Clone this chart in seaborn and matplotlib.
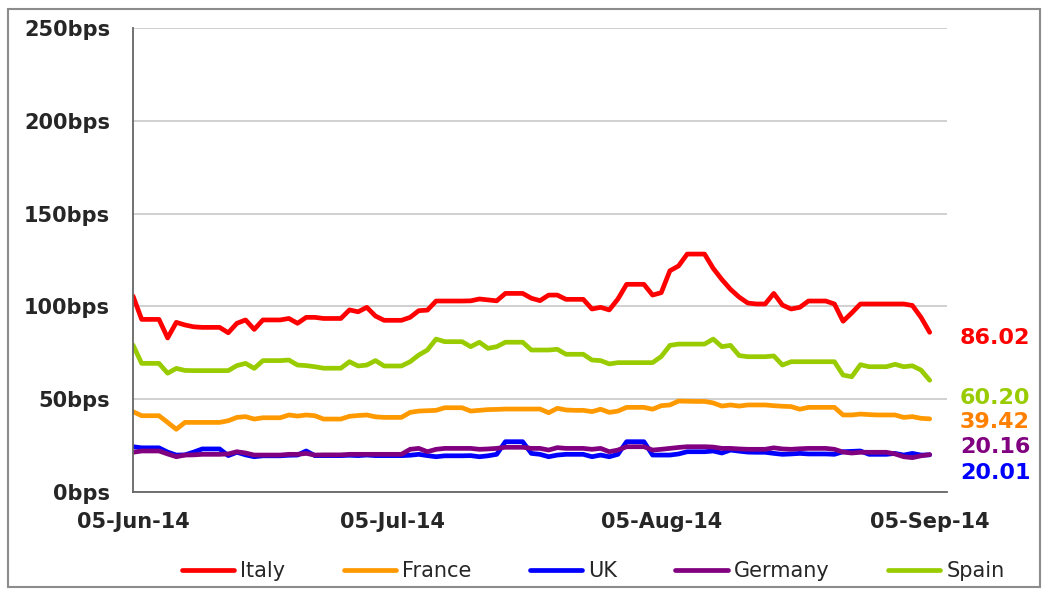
import pandas as pd
import matplotlib.pyplot as plt
import matplotlib.dates as mdates
import seaborn as sns
from matplotlib.patches import Rectangle

# daily values (weekends carry the Friday close), 05-Jun-14 .. 05-Sep-14
dates = pd.date_range("2014-06-05", "2014-09-05", freq="D")

italy = [105.6, 93.0, 93.0, 93.0, 83.0, 91.4, 90.0, 89.0, 88.7, 88.7,
         88.7, 85.8, 90.9, 92.7, 87.6, 92.7, 92.7, 92.7, 93.5, 90.9,
         94.1, 94.1, 93.5, 93.5, 93.5, 98.1, 97.1, 99.5, 94.8, 92.5,
         92.5, 92.5, 94.1, 97.7, 98.0, 102.9, 102.9, 102.9, 102.9, 103.0,
         104.0, 103.5, 103.0, 107.0, 107.0, 107.0, 104.4, 103.1, 106.1, 106.1,
         103.8, 103.8, 103.8, 98.6, 99.5, 98.1, 104.0, 111.9, 111.9, 111.9,
         106.1, 107.4, 119.2, 121.8, 128.2, 128.2, 128.2, 120.5, 114.5, 109.2,
         105.0, 101.8, 101.3, 101.3, 107.0, 100.7, 98.6, 99.5, 102.9, 102.9,
         102.9, 101.3, 92.0, 96.5, 101.3, 101.3, 101.3, 101.3, 101.3, 101.3,
         100.5, 94.1, 86.02]

france = [43.3, 41.1, 41.1, 41.1, 37.5, 33.8, 37.5, 37.5, 37.5, 37.5,
          37.5, 38.4, 40.2, 40.6, 39.3, 40.0, 40.0, 40.0, 41.5, 40.9,
          41.5, 41.1, 39.3, 39.3, 39.3, 40.8, 41.2, 41.5, 40.5, 40.2,
          40.2, 40.2, 42.9, 43.6, 43.8, 44.0, 45.4, 45.4, 45.4, 43.6,
          44.0, 44.4, 44.5, 44.7, 44.7, 44.7, 44.7, 44.7, 42.7, 45.1,
          44.2, 44.0, 44.0, 43.3, 44.6, 42.9, 43.6, 45.6, 45.6, 45.6,
          44.6, 46.5, 46.9, 49.0, 48.9, 48.8, 48.8, 48.0, 46.3, 46.9,
          46.3, 46.9, 46.9, 46.9, 46.5, 46.2, 46.0, 44.6, 45.6, 45.6,
          45.6, 45.6, 41.5, 41.5, 42.0, 41.7, 41.5, 41.5, 41.5, 40.2,
          40.6, 39.7, 39.42]

uk = [24.4, 23.8, 23.8, 23.8, 21.5, 19.9, 20.0, 21.5, 23.2, 23.2,
      23.2, 19.6, 21.4, 20.0, 19.0, 19.5, 19.5, 19.5, 19.8, 19.9,
      22.1, 19.6, 19.6, 19.6, 19.6, 19.8, 19.6, 19.9, 19.6, 19.6,
      19.6, 19.6, 19.8, 20.3, 19.6, 19.0, 19.5, 19.5, 19.5, 19.6,
      19.0, 19.5, 20.3, 27.1, 27.1, 27.1, 20.8, 20.3, 19.0, 19.9,
      20.3, 20.3, 20.3, 19.0, 19.9, 19.0, 20.3, 27.1, 27.1, 27.1,
      19.9, 19.9, 19.9, 20.5, 21.7, 21.7, 21.7, 22.1, 21.0, 22.6,
      22.0, 21.5, 21.4, 21.4, 20.8, 20.3, 20.5, 20.8, 20.5, 20.5,
      20.5, 20.3, 21.7, 21.9, 22.1, 20.3, 20.3, 20.3, 20.8, 19.9,
      20.8, 19.9, 20.01]

germany = [21.4, 22.1, 22.1, 22.1, 20.5, 19.0, 19.9, 20.0, 20.3, 20.3,
           20.3, 20.5, 21.7, 21.0, 19.9, 19.9, 19.9, 19.9, 20.3, 20.3,
           20.8, 19.9, 20.0, 20.0, 20.0, 20.3, 20.3, 20.3, 20.3, 20.3,
           20.3, 20.3, 23.0, 23.5, 21.7, 23.0, 23.5, 23.5, 23.5, 23.5,
           23.0, 23.2, 23.5, 24.1, 24.1, 24.1, 23.5, 23.5, 22.6, 23.9,
           23.5, 23.5, 23.5, 23.0, 23.5, 21.7, 22.6, 24.4, 24.4, 24.4,
           22.6, 23.0, 23.5, 24.0, 24.4, 24.4, 24.4, 24.2, 23.5, 23.5,
           23.2, 23.0, 23.0, 23.0, 23.8, 23.2, 23.0, 23.3, 23.5, 23.5,
           23.5, 23.0, 21.5, 21.0, 21.4, 21.4, 21.4, 21.4, 20.5, 19.0,
           18.5, 19.5, 20.16]

spain = [79.2, 69.3, 69.3, 69.3, 64.0, 66.6, 65.5, 65.4, 65.4, 65.4,
         65.4, 65.4, 68.1, 69.3, 66.6, 70.8, 70.8, 70.8, 71.1, 68.4,
         68.1, 67.5, 66.7, 66.7, 66.7, 70.2, 67.9, 68.4, 70.8, 67.9,
         67.9, 67.9, 70.2, 73.8, 76.5, 82.4, 81.0, 81.0, 81.0, 78.3,
         80.7, 77.4, 78.3, 80.7, 80.7, 80.7, 76.5, 76.5, 76.5, 76.9,
         74.2, 74.2, 74.2, 71.1, 70.8, 69.0, 69.7, 69.7, 69.7, 69.7,
         69.7, 73.0, 79.0, 79.7, 79.7, 79.7, 79.7, 82.4, 78.3, 79.0,
         73.5, 72.9, 72.9, 72.9, 73.3, 68.4, 70.2, 70.2, 70.2, 70.2,
         70.2, 70.2, 63.0, 62.1, 68.6, 67.5, 67.5, 67.5, 68.8, 67.5,
         68.0, 65.7, 60.20]

countries = ["Italy", "France", "UK", "Germany", "Spain"]
colors = ["#FF0000", "#FF9900", "#0000FF", "#800080", "#99CC00"]

df = pd.DataFrame({"Date": dates, "Italy": italy, "France": france,
                   "UK": uk, "Germany": germany, "Spain": spain})
long_df = df.melt(id_vars="Date", var_name="Country", value_name="Spread")

sns.set_style("white")
plt.rcParams["font.family"] = ["DejaVu Sans"]

fig = plt.figure(figsize=(10.45, 5.9), dpi=100)
ax = fig.add_axes([133 / 1045, 98 / 590, 814 / 1045, 464 / 590])

sns.lineplot(data=long_df, x="Date", y="Spread", hue="Country",
             hue_order=countries, palette=colors, linewidth=3.4,
             legend=False, ax=ax)

ax.set_ylim(0, 250)
ax.set_yticks(range(0, 251, 50))
ax.yaxis.set_major_formatter(plt.FuncFormatter(lambda v, p: f"{v:.0f}bps"))
ax.set_xlim(pd.Timestamp("2014-06-05"), pd.Timestamp("2014-09-07"))
ax.set_xticks(pd.to_datetime(["2014-06-05", "2014-07-05", "2014-08-05", "2014-09-05"]))
ax.xaxis.set_major_formatter(mdates.DateFormatter("%d-%b-%y"))
ax.set_xlabel("")
ax.set_ylabel("")

ax.grid(axis="y", color="#c8c8c8", linewidth=1.2)
ax.set_axisbelow(True)
for s in ["top", "right"]:
    ax.spines[s].set_visible(False)
for s in ["left", "bottom"]:
    ax.spines[s].set_color("#666666")
    ax.spines[s].set_linewidth(1.3)
ax.tick_params(axis="both", direction="out", length=6.5, width=1.2,
               color="#666666", labelsize=15)
ax.tick_params(axis="y", pad=10)
ax.tick_params(axis="x", pad=8)
for t in ax.get_xticklabels() + ax.get_yticklabels():
    t.set_fontweight("bold")

# end-of-series value labels, spread apart by hand as in the source
end_vals = [italy[-1], spain[-1], france[-1], germany[-1], uk[-1]]
end_colors = ["#FF0000", "#99CC00", "#FF8000", "#800080", "#0000FF"]
label_y = [83, 50.6, 37.7, 24.2, 10.2]
for val, y, c in zip(end_vals, label_y, end_colors):
    ax.text(1.016, y, f"{val:.2f}", color=c, fontsize=16, fontweight="bold",
            va="center", ha="left", transform=ax.get_yaxis_transform(), clip_on=False)

handles = [plt.Line2D([], [], color=c, linewidth=3.4) for c in colors]
fig.legend(handles, countries, loc="center left", bbox_to_anchor=(182 / 1045, 19 / 590),
           ncol=5, frameon=False, fontsize=15, handlelength=2.5, handletextpad=0.3,
           columnspacing=2.8, borderpad=0, borderaxespad=0)

fig.patches.append(Rectangle((8 / 1045, 3 / 590), 1032 / 1045, 578 / 590,
                             transform=fig.transFigure, fill=False,
                             edgecolor="#8c8c8c", linewidth=1.5))

fig.savefig("out.png", dpi=100)
